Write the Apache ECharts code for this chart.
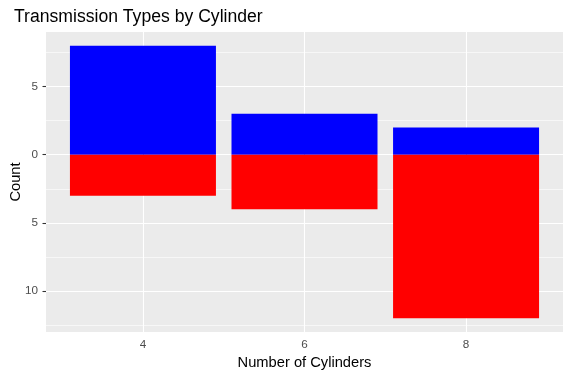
<!DOCTYPE html>
<html>
<head>
<meta charset="utf-8">
<script src="https://cdn.jsdelivr.net/npm/echarts@6/dist/echarts.min.js"></script>
<style>
  html, body { margin: 0; padding: 0; background: #fff; }
  #chart { width: 571px; height: 377px; }
</style>
</head>
<body>
<div id="chart"></div>
<script>
// mtcars counts by cylinder; automatic drawn downward as negatives
const cylinders = [4, 6, 8];
const manualCounts = [8, 3, 2];
const automaticCounts = [-3, -4, -12];
const yTicks = [-10, -5, 0, 5];
const yMinorTicks = [-12.5, -7.5, -2.5, 2.5, 7.5];

const chart = echarts.init(document.getElementById('chart'));
const font = 'Liberation Sans, Arial, sans-serif';

chart.setOption({
  animation: false,
  textStyle: { fontFamily: font },
  title: {
    text: 'Transmission Types by Cylinder',
    left: 9,
    top: 3,
    textStyle: { fontSize: 17.6, fontWeight: 'normal', color: '#000', fontFamily: font }
  },
  grid: {
    left: 46, right: 8, top: 32, bottom: 45,
    outerBoundsMode: 'none',
    containLabel: false,
    show: true,
    backgroundColor: '#EBEBEB',
    borderWidth: 0
  },
  xAxis: {
    type: 'value',
    min: 2.8,
    max: 9.2,
    name: 'Number of Cylinders',
    nameLocation: 'middle',
    nameGap: 23,
    nameMoveOverlap: false,
    nameTextStyle: { fontSize: 14.7, color: '#000' },
    axisLine: { show: false },
    axisTick: { show: true, length: 3.5, customValues: cylinders, lineStyle: { color: '#333', width: 1.1 } },
    axisLabel: { customValues: cylinders, margin: 7, fontSize: 11.7, color: '#4D4D4D' },
    splitLine: { show: true, lineStyle: { color: '#fff', width: 1.1 } }
  },
  yAxis: [
    {
      type: 'value',
      min: -13,
      max: 9,
      name: 'Count',
      nameLocation: 'middle',
      nameRotate: 90,
      nameGap: 23,
      nameMoveOverlap: false,
      nameTextStyle: { fontSize: 14.7, color: '#000' },
      axisLine: { show: false },
      axisTick: { show: true, length: 3.5, customValues: yTicks, lineStyle: { color: '#333', width: 1.1 } },
      axisLabel: {
        customValues: yTicks,
        margin: 8,
        fontSize: 11.7,
        color: '#4D4D4D',
        formatter: v => String(Math.abs(v))
      },
      splitLine: { show: true, lineStyle: { color: '#fff', width: 1.1 } }
    },
    {
      type: 'value',
      min: -13,
      max: 9,
      position: 'left',
      axisLine: { show: false },
      axisTick: { show: false, customValues: yMinorTicks },
      axisLabel: { show: false, customValues: yMinorTicks },
      splitLine: { show: true, lineStyle: { color: '#fff', width: 0.6 } }
    }
  ],
  series: [
    {
      name: 'Manual',
      type: 'bar',
      yAxisIndex: 0,
      barWidth: 146,
      barGap: '-100%',
      data: cylinders.map((c, i) => [c, manualCounts[i]]),
      itemStyle: { color: '#0000FF' }
    },
    {
      name: 'Automatic',
      type: 'bar',
      yAxisIndex: 0,
      barWidth: 146,
      barGap: '-100%',
      data: cylinders.map((c, i) => [c, automaticCounts[i]]),
      itemStyle: { color: '#FF0000' }
    }
  ]
});
</script>
</body>
</html>
